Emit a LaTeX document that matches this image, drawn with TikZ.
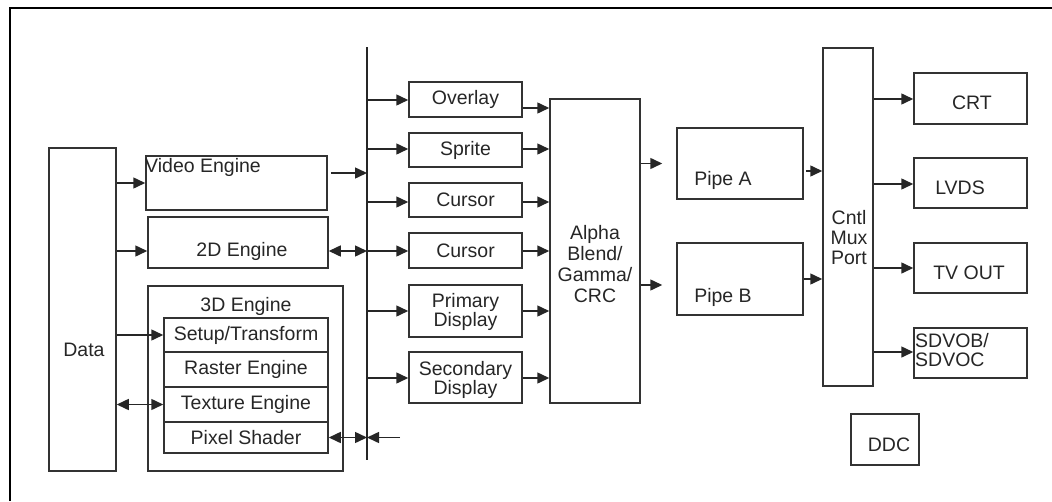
\documentclass[tikz,border=0pt]{standalone}
\usepackage{fontspec}
\setmainfont{Liberation Sans}
\usetikzlibrary{arrows.meta}
\begin{document}
\begin{tikzpicture}[x=1pt,y=-1pt,
  font=\fontsize{19.5}{22}\selectfont,
  every node/.style={text=black!85},
  blk/.style={draw=black!80,line width=1.5pt,inner sep=0pt,rectangle},
  txt/.style={inner sep=0pt,align=center},
  conn/.style={line width=1.5pt,draw=black!85,-{Triangle[length=12pt,width=11pt]}},
  dconn/.style={line width=1.5pt,draw=black!85,{Triangle[length=12pt,width=11pt]}-{Triangle[length=12pt,width=11pt]}}
]
\useasboundingbox (0,0) rectangle (1052,501);
% outer frame
\draw[line width=2.6pt,black] (10,501) -- (10,8) -- (1052,8);

% left column
\node[blk,minimum width=67pt,minimum height=323pt] (Data) at (82.5,309.5) {};
\node[txt] (DataT) at (84,350) {Data};
\node[blk,minimum width=181pt,minimum height=54pt] (Video) at (236.5,183) {};
\node[txt,anchor=west] (VideoT) at (145,167) {Video Engine};
\node[blk,minimum width=180pt,minimum height=51pt] (TwoD) at (238,242.5) {};
\node[txt] (TwoDT) at (242,251) {2D Engine};
\node[blk,minimum width=195pt,minimum height=185pt] (ThreeD) at (245.5,378.5) {};
\node[txt] (ThreeDT) at (246,306) {3D Engine};
\node[blk,minimum width=164pt,minimum height=34pt] (Setup) at (246,335) {Setup/Transform};
\node[blk,minimum width=164pt,minimum height=35pt] (Raster) at (246,369.5) {Raster Engine};
\node[blk,minimum width=164pt,minimum height=35pt] (Texture) at (246,404.5) {Texture Engine};
\node[blk,minimum width=164pt,minimum height=31pt] (Pixel) at (246,437.5) {Pixel Shader};

% bus
\coordinate (busTop) at (367,47);
\coordinate (busBot) at (367,460);
\draw[line width=1.5pt,black!85] (busTop) -- (busBot);
\coordinate (pin) at (400,437.5);

% middle column
\node[blk,minimum width=113pt,minimum height=35pt] (Overlay) at (465.5,99.5) {Overlay};
\node[blk,minimum width=113pt,minimum height=34pt] (Sprite) at (465.5,150) {Sprite};
\node[blk,minimum width=113pt,minimum height=34pt] (CursorA) at (465.5,200) {Cursor};
\node[blk,minimum width=113pt,minimum height=35pt] (CursorB) at (465.5,250.5) {Cursor};
\node[blk,minimum width=113pt,minimum height=52pt] (Primary) at (465.5,311) {};
\node[txt] (PrimaryT) at (465.5,312) {Primary\\[-3pt]Display};
\node[blk,minimum width=113pt,minimum height=51pt] (Secondary) at (465.5,377.5) {};
\node[txt] (SecondaryT) at (465.5,380) {Secondary\\[-3pt]Display};
\node[blk,minimum width=90pt,minimum height=304pt] (Alpha) at (595,251) {};
\node[txt] (AlphaT) at (595,264) {Alpha\\[-1pt]Blend/\\[-1pt]Gamma/\\[-1pt]CRC};

% right part
\node[blk,minimum width=126pt,minimum height=71pt] (PipeA) at (740,163.5) {};
\node[txt] (PipeAT) at (723,180) {Pipe A};
\node[blk,minimum width=126pt,minimum height=72pt] (PipeB) at (740,279) {};
\node[txt] (PipeBT) at (723,297) {Pipe B};
\node[blk,minimum width=50pt,minimum height=338pt] (Cntl) at (848,217) {};
\node[txt] (CntlT) at (849,238) {Cntl\\[-2pt]Mux\\[-2pt]Port};
\node[blk,minimum width=113pt,minimum height=51pt] (CRT) at (970.5,98.5) {};
\node[txt] (CRTT) at (972,103) {CRT};
\node[blk,minimum width=113pt,minimum height=50pt] (LVDS) at (970.5,183) {};
\node[txt] (LVDST) at (960,188) {LVDS};
\node[blk,minimum width=113pt,minimum height=50pt] (TVOUT) at (970.5,268) {};
\node[txt] (TVOUTT) at (969,273) {TV OUT};
\node[blk,minimum width=113pt,minimum height=50pt] (SDVO) at (970.5,353) {};
\node[txt,anchor=west,align=left] (SDVOT) at (915,350) {SDVOB/\\[-3pt]SDVOC};
\node[blk,minimum width=68pt,minimum height=51pt] (DDC) at (885,439.5) {};
\node[txt] (DDCT) at (889,445) {DDC};

% connectors: Data to engines
\draw[conn] (Data.east |- Video.west) -- (Video.west);
\draw[conn] (Data.east |- 0,251) -- (TwoD.west |- 0,251);
\draw[conn] (Data.east |- Setup.west) -- (Setup.west);
\draw[dconn] (Data.east |- Texture.west) -- (Texture.west);

% engines to bus
\draw[conn] ([xshift=3pt]Video.east |- 0,173) -- (busTop |- 0,173);
\draw[dconn] (TwoD.east |- 0,251) -- (busTop |- 0,251);
\draw[dconn] (Pixel.east) -- (busTop |- Pixel.east);
\draw[conn] (pin) -- (busTop |- pin);

% bus to middle boxes
\draw[conn] (busTop |- 0,100) -- (Overlay.west |- 0,100);
\draw[conn] (busTop |- 0,149) -- (Sprite.west |- 0,149);
\draw[conn] (busTop |- 0,202) -- (CursorA.west |- 0,202);
\draw[conn] (busTop |- 0,251) -- (CursorB.west |- 0,251);
\draw[conn] (busTop |- Primary.west) -- (Primary.west);
\draw[conn] (busTop |- 0,378) -- (Secondary.west |- 0,378);

% middle boxes to Alpha
\draw[conn] (Overlay.east |- 0,108) -- (Alpha.west |- 0,108);
\draw[conn] (Sprite.east |- 0,149) -- (Alpha.west |- 0,149);
\draw[conn] (CursorA.east |- 0,202) -- (Alpha.west |- 0,202);
\draw[conn] (CursorB.east |- 0,251) -- (Alpha.west |- 0,251);
\draw[conn] (Primary.east) -- (Alpha.west |- Primary.east);
\draw[conn] (Secondary.east |- 0,378) -- (Alpha.west |- 0,378);

% Alpha to pipes
\draw[conn,shorten >=14pt] (Alpha.east |- PipeA.west) -- (PipeA.west);
\draw[conn,shorten >=14pt] (Alpha.east |- 0,285) -- (PipeB.west |- 0,285);

% pipes to Cntl
\draw[conn] ([xshift=2pt]PipeA.east |- 0,171) -- (Cntl.west |- 0,171);
\draw[conn] (PipeB.east) -- (Cntl.west |- PipeB.east);

% Cntl to outputs
\draw[conn] (Cntl.east |- 0,99) -- (CRT.west |- 0,99);
\draw[conn] (Cntl.east |- 0,184) -- (LVDS.west |- 0,184);
\draw[conn] (Cntl.east |- TVOUT.west) -- (TVOUT.west);
\draw[conn] (Cntl.east |- 0,352) -- (SDVO.west |- 0,352);
\end{tikzpicture}
\end{document}
